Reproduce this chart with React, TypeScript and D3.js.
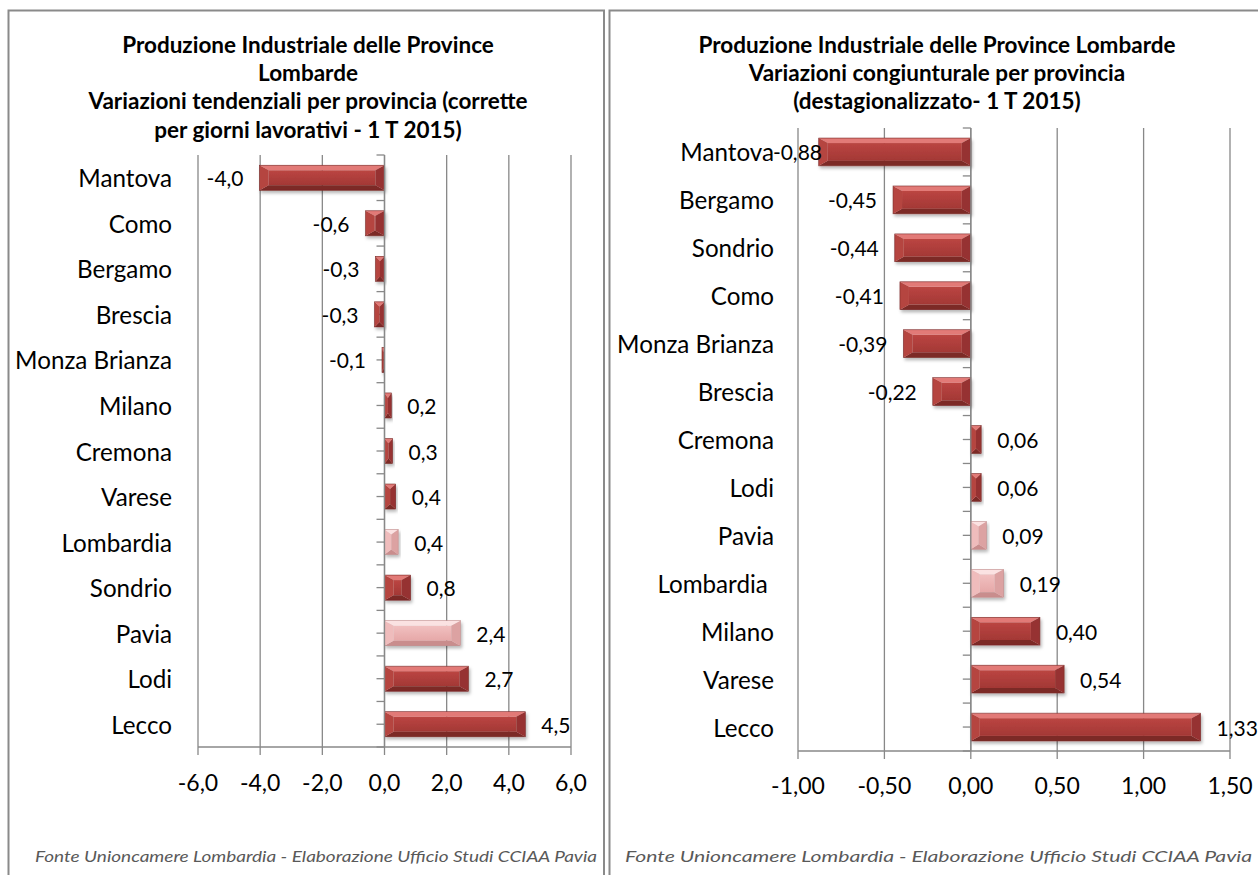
import * as d3 from 'd3'

// ---- data: left panel (variazioni tendenziali)
const leftCategories = ['Mantova', 'Como', 'Bergamo', 'Brescia', 'Monza Brianza', 'Milano', 'Cremona', 'Varese', 'Lombardia', 'Sondrio', 'Pavia', 'Lodi', 'Lecco']
const leftValues = [-4.02, -0.61, -0.29, -0.32, -0.08, 0.22, 0.26, 0.36, 0.44, 0.84, 2.44, 2.7, 4.53]
const leftHighlight = ['Lombardia', 'Pavia']
const leftTicks = [-6, -4, -2, 0, 2, 4, 6]
const leftTitle = [
  'Produzione Industriale delle Province',
  'Lombarde',
  'Variazioni tendenziali per provincia (corrette',
  'per giorni lavorativi - 1 T 2015)',
]

// ---- data: right panel (variazioni congiunturali)
const rightCategories = ['Mantova', 'Bergamo', 'Sondrio', 'Como', 'Monza Brianza', 'Brescia', 'Cremona', 'Lodi', 'Pavia', 'Lombardia ', 'Milano', 'Varese', 'Lecco']
const rightValues = [-0.88, -0.45, -0.44, -0.41, -0.39, -0.22, 0.06, 0.06, 0.09, 0.19, 0.4, 0.54, 1.33]
const rightHighlight = ['Pavia', 'Lombardia ']
const rightTicks = [-1, -0.5, 0, 0.5, 1, 1.5]
const rightTitle = [
  'Produzione Industriale delle Province Lombarde',
  'Variazioni congiunturale per provincia',
  '(destagionalizzato- 1 T 2015)',
]

const footnote = 'Fonte Unioncamere Lombardia - Elaborazione Ufficio Studi CCIAA Pavia'

const FONT = "Lato, 'Open Sans', 'Noto Sans', sans-serif"
const GRID = '#888888'

const palette = {
  red: { top: '#e27a77', bottom: '#7c2927', left: '#b5443f', right: '#963330', face: 'url(#faceRed)', stroke: '#7a2a28' },
  pink: { top: '#fbe2e2', bottom: '#c98d8d', left: '#efbcbc', right: '#dca2a2', face: 'url(#facePink)', stroke: '#c08a8a' },
}

function comma(fmt: string) {
  const f = d3.format(fmt)
  return (v: number) => f(Math.abs(v) < 1e-9 ? 0 : v).replace('.', ',').replace('−', '-')
}

function BevelBar({ x, y, w, h, kind }: { x: number; y: number; w: number; h: number; kind: 'red' | 'pink' }) {
  const c = palette[kind]
  const bx = Math.min(9, w / 2)
  const by = Math.min(5, h / 2)
  const p = (pts: number[][]) => pts.map(q => q.join(',')).join(' ')
  return (
    <g filter="url(#barShadow)">
      <rect x={x + bx} y={y + by} width={Math.max(0, w - 2 * bx)} height={Math.max(0, h - 2 * by)} fill={c.face} />
      <polygon points={p([[x, y], [x + w, y], [x + w - bx, y + by], [x + bx, y + by]])} fill={c.top} />
      <polygon points={p([[x, y + h], [x + w, y + h], [x + w - bx, y + h - by], [x + bx, y + h - by]])} fill={c.bottom} />
      <polygon points={p([[x, y], [x + bx, y + by], [x + bx, y + h - by], [x, y + h]])} fill={c.left} />
      <polygon points={p([[x + w, y], [x + w - bx, y + by], [x + w - bx, y + h - by], [x + w, y + h]])} fill={c.right} />
      <rect x={x} y={y} width={w} height={h} fill="none" stroke={c.stroke} strokeWidth={0.6} />
    </g>
  )
}

interface PanelProps {
  categories: string[]
  values: number[]
  highlight: string[]
  ticks: number[]
  tickFmt: string
  valueFmt: string
  title: string[]
  titleX: number
  titleY: number[]
  plot: { left: number; right: number; top: number; bottom: number }
  catRight: number
  tickLabelY: number
  barFrac: number
}

function Panel(props: PanelProps) {
  const { categories, values, highlight, ticks, plot, barFrac } = props
  const x = d3.scaleLinear().domain([ticks[0], ticks[ticks.length - 1]]).range([plot.left, plot.right])
  const pad = 1 - barFrac
  const y = d3.scaleBand<string>().domain(categories).range([plot.top, plot.bottom]).paddingInner(pad).paddingOuter(pad / 2)
  const step = y.step()
  const x0 = x(0)
  const tickFormat = comma(props.tickFmt)
  const valueFormat = comma(props.valueFmt)
  const catTicks = d3.range(categories.length * 2 + 1).map(i => plot.top + (i * step) / 2)

  return (
    <g>
      {props.title.map((t, i) => (
        <text key={i} x={props.titleX} y={props.titleY[i]} textAnchor="middle" fontFamily={FONT} fontWeight={700} fontSize={22.5} fill="#000">
          {t}
        </text>
      ))}

      {/* vertical gridlines */}
      {ticks.map(t => (
        <line key={t} x1={x(t)} x2={x(t)} y1={plot.top} y2={plot.bottom} stroke={GRID} strokeWidth={1.3} />
      ))}

      {/* category axis ticks */}
      {catTicks.map((ty, i) => (
        <line key={i} x1={x0 - 8} x2={x0} y1={ty} y2={ty} stroke={GRID} strokeWidth={1.3} />
      ))}

      {/* bars */}
      {categories.map((c, i) => {
        const v = values[i]
        const bx = Math.min(x(v), x0)
        const bw = Math.abs(x(v) - x0)
        return <BevelBar key={c} x={bx} y={y(c)!} w={bw} h={y.bandwidth()} kind={highlight.includes(c) ? 'pink' : 'red'} />
      })}

      {/* axes */}
      <line x1={x0} x2={x0} y1={plot.top} y2={plot.bottom} stroke={GRID} strokeWidth={1.3} />
      <line x1={plot.left} x2={plot.right} y1={plot.bottom} y2={plot.bottom} stroke={GRID} strokeWidth={1.3} />
      {ticks.map(t => (
        <line key={t} x1={x(t)} x2={x(t)} y1={plot.bottom} y2={plot.bottom + 8} stroke={GRID} strokeWidth={1.3} />
      ))}
      {ticks.map(t => (
        <text key={t} x={x(t)} y={props.tickLabelY} textAnchor="middle" dominantBaseline="central" fontFamily={FONT} fontSize={23} fill="#000">
          {tickFormat(t)}
        </text>
      ))}

      {/* category labels */}
      {categories.map(c => (
        <text key={c} x={props.catRight} y={y(c)! + y.bandwidth() / 2} textAnchor="end" dominantBaseline="central" fontFamily={FONT} fontSize={24.2} fill="#000" style={{ whiteSpace: 'pre' }}>
          {c}
        </text>
      ))}

      {/* data labels */}
      {categories.map((c, i) => {
        const v = values[i]
        const cy = y(c)! + y.bandwidth() / 2
        if (v < 0) {
          const end = Math.max(x(v) - 16, plot.left + 24)
          return (
            <text key={c} x={end} y={cy} textAnchor="end" dominantBaseline="central" fontFamily={FONT} fontSize={21} fill="#000">
              {valueFormat(v)}
            </text>
          )
        }
        return (
          <text key={c} x={x(v) + 16} y={cy} textAnchor="start" dominantBaseline="central" fontFamily={FONT} fontSize={21} fill="#000">
            {valueFormat(v)}
          </text>
        )
      })}
    </g>
  )
}

export default function App() {
  return (
    <svg width={1258} height={875} style={{ position: 'absolute', left: 0, top: 0, background: '#fff' }}>
      <defs>
        <linearGradient id="faceRed" x1="0" y1="0" x2="0" y2="1">
          <stop offset="0" stopColor="#bb4542" />
          <stop offset="1" stopColor="#a33835" />
        </linearGradient>
        <linearGradient id="facePink" x1="0" y1="0" x2="0" y2="1">
          <stop offset="0" stopColor="#f1c0c0" />
          <stop offset="1" stopColor="#e6a8a8" />
        </linearGradient>
        <filter id="barShadow" x="-10%" y="-20%" width="130%" height="160%">
          <feDropShadow dx="1.5" dy="2.5" stdDeviation="1.8" floodColor="#000" floodOpacity="0.28" />
        </filter>
      </defs>
      <rect width={1258} height={875} fill="#fff" />

      {/* panel frames */}
      <rect x={8.5} y={10.5} width={595.5} height={880} fill="none" stroke="#8a8a8a" strokeWidth={2} />
      <rect x={609.5} y={10.5} width={680} height={880} fill="none" stroke="#8a8a8a" strokeWidth={2} />

      <Panel
        categories={leftCategories}
        values={leftValues}
        highlight={leftHighlight}
        ticks={leftTicks}
        tickFmt=".1f"
        valueFmt=".1f"
        title={leftTitle}
        titleX={308}
        titleY={[53, 81, 109, 138]}
        plot={{ left: 198, right: 571, top: 155, bottom: 747 }}
        catRight={172}
        tickLabelY={782}
        barFrac={0.55}
      />
      <Panel
        categories={rightCategories}
        values={rightValues}
        highlight={rightHighlight}
        ticks={rightTicks}
        tickFmt=".2f"
        valueFmt=".2f"
        title={rightTitle}
        titleX={937}
        titleY={[53, 81, 109]}
        plot={{ left: 798, right: 1230, top: 128, bottom: 751 }}
        catRight={774}
        tickLabelY={785}
        barFrac={0.58}
      />

      <text x={35} y={862} fontFamily={FONT} fontStyle="italic" fontSize={16} fill="#595959" textLength={562} lengthAdjust="spacingAndGlyphs">
        {footnote}
      </text>
      <text x={625} y={862} fontFamily={FONT} fontStyle="italic" fontSize={16} fill="#595959" textLength={627} lengthAdjust="spacingAndGlyphs">
        {footnote}
      </text>
    </svg>
  )
}
